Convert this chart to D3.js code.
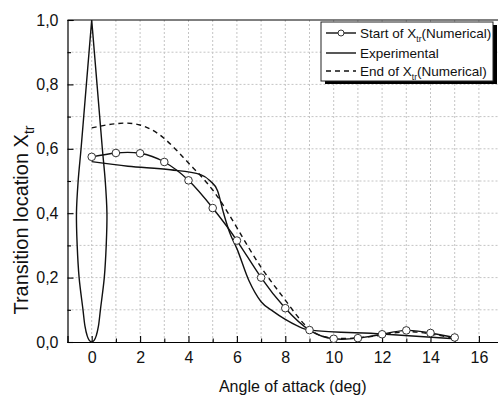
<!DOCTYPE html>
<html>
<head>
<meta charset="utf-8">
<script src="https://cdn.jsdelivr.net/npm/d3@7"></script>
<style>
  body { margin: 0; background: #fff; }
  svg { display: block; font-family: "Liberation Sans", Arial, Helvetica, sans-serif; }
</style>
</head>
<body>
<svg id="chart" width="498" height="399"></svg>
<script>
// Angle of attack (deg) for the numerical runs
const angles = [0, 1, 2, 3, 4, 5, 6, 7, 8, 9, 10, 11, 12, 13, 14, 15];
// Start of transition (numerical)
const startXtr = [0.575, 0.587, 0.586, 0.559, 0.502, 0.416, 0.315, 0.200, 0.105, 0.037, 0.010, 0.012, 0.024, 0.036, 0.028, 0.014];
// End of transition (numerical)
const endXtr = [0.665, 0.678, 0.674, 0.632, 0.556, 0.472, 0.355, 0.232, 0.130, 0.040, 0.012, 0.013, 0.022, 0.032, 0.025, 0.012];
// Experimental transition location
const expAngles = [0, 1.5, 3.25, 4.5, 4.9, 5.2, 5.45, 5.7, 6, 6.5, 7, 7.5, 8, 8.5, 9, 12, 15];
const expXtr = [0.560, 0.546, 0.535, 0.520, 0.500, 0.470, 0.400, 0.340, 0.290, 0.190, 0.125, 0.095, 0.070, 0.050, 0.037, 0.025, 0.010];

// Airfoil outline sketched along the chord (0 = leading edge, 1 = trailing edge),
// half-thickness given in x-axis units
const airfoilChord = [0, 0.005, 0.02, 0.05, 0.1, 0.2, 0.3, 0.4, 0.5, 0.6, 0.7, 0.8, 0.9, 1.0];
const airfoilHalf  = [0, 0.10, 0.19, 0.28, 0.36, 0.52, 0.60, 0.63, 0.56, 0.44, 0.33, 0.22, 0.11, 0];

const xMajorTicks = [0, 2, 4, 6, 8, 10, 12, 14, 16];
const xMinorTicks = [1, 3, 5, 7, 9, 11, 13, 15];
const yMajorTicks = [0, 0.2, 0.4, 0.6, 0.8, 1.0];
const yMinorTicks = [0.1, 0.3, 0.5, 0.7, 0.9];
const xGrid = [0, 1, 2, 3, 4, 5, 6, 7, 8, 9, 10, 11, 12, 13, 14, 15, 16];
const yGrid = [0.1, 0.2, 0.3, 0.4, 0.5, 0.6, 0.7, 0.8, 0.9];

const svg = d3.select("#chart");
const x = d3.scaleLinear().domain([-1, 17]).range([67.5, 67.5 + 18 * 24.2]);
const y = d3.scaleLinear().domain([0, 1]).range([342, 20]);
const fmt = d => d3.format(".1f")(d).replace(".", ",");

// grid
const grid = svg.append("g");
grid.selectAll("line.gx").data(xGrid).join("line")
  .attr("x1", d => x(d)).attr("x2", d => x(d))
  .attr("y1", y(0)).attr("y2", y(1))
  .attr("stroke", "#c4c4c4").attr("stroke-width", 1).attr("stroke-dasharray", "2,2");
grid.selectAll("line.gy").data(yGrid).join("line")
  .attr("x1", x(-1)).attr("x2", x(17))
  .attr("y1", d => y(d)).attr("y2", d => y(d))
  .attr("stroke", "#c4c4c4").attr("stroke-width", 1).attr("stroke-dasharray", "2,2");

// frame (top edge)
svg.append("line").attr("x1", x(-1)).attr("x2", x(17)).attr("y1", y(1)).attr("y2", y(1))
  .attr("stroke", "#000").attr("stroke-width", 1);

// axes with inward ticks
svg.append("g").attr("transform", `translate(0,${y(0)})`)
  .call(d3.axisBottom(x).tickValues(xMajorTicks).tickSize(-6).tickPadding(10).tickFormat(d3.format("d")));
svg.append("g").attr("transform", `translate(0,${y(0)})`)
  .call(d3.axisBottom(x).tickValues(xMinorTicks).tickSize(-3.5).tickFormat(""))
  .call(g => g.select(".domain").remove());
svg.append("g").attr("transform", `translate(${x(-1)},0)`)
  .call(d3.axisLeft(y).tickValues(yMajorTicks).tickSize(-6).tickPadding(9).tickFormat(fmt));
svg.append("g").attr("transform", `translate(${x(-1)},0)`)
  .call(d3.axisLeft(y).tickValues(yMinorTicks).tickSize(-3.5).tickFormat(""))
  .call(g => g.select(".domain").remove());
svg.selectAll(".domain").attr("stroke", "#000").attr("stroke-width", 1.2);
svg.selectAll(".tick line").attr("stroke", "#000").attr("stroke-width", 1.1);
svg.selectAll(".tick text").attr("font-size", 16).attr("fill", "#111")
  .attr("font-family", "Liberation Sans, Arial, sans-serif");

// axis titles
svg.append("text").attr("x", (x(-1) + 498) / 2 + 10).attr("y", 392)
  .attr("text-anchor", "middle").attr("font-size", 16).attr("fill", "#111")
  .text("Angle of attack (deg)");
const yt = svg.append("text").attr("transform", "translate(28,220) rotate(-90)")
  .attr("text-anchor", "middle").attr("font-size", 20).attr("fill", "#111");
yt.append("tspan").text("Transition location X");
yt.append("tspan").attr("font-size", 14).attr("dy", 6).text("tr");

// airfoil sketch: trailing edge -> left side -> leading edge -> right side -> trailing edge
const foil = [];
for (let i = airfoilChord.length - 1; i >= 0; i--) foil.push([-airfoilHalf[i], airfoilChord[i]]);
for (let i = 1; i < airfoilChord.length; i++) foil.push([airfoilHalf[i], airfoilChord[i]]);
svg.append("path").datum(foil)
  .attr("d", d3.line().x(d => x(d[0])).y(d => y(d[1])).curve(d3.curveCatmullRom.alpha(0.5)))
  .attr("fill", "none").attr("stroke", "#111").attr("stroke-width", 1.4);

// series
const lineGen = d3.line().x(d => x(d[0])).y(d => y(d[1]));
svg.append("path").datum(d3.zip(angles, endXtr))
  .attr("d", lineGen.curve(d3.curveNatural))
  .attr("fill", "none").attr("stroke", "#111").attr("stroke-width", 1.4).attr("stroke-dasharray", "5,4");
svg.append("path").datum(d3.zip(expAngles, expXtr))
  .attr("d", lineGen.curve(d3.curveMonotoneX))
  .attr("fill", "none").attr("stroke", "#111").attr("stroke-width", 1.4);
svg.append("path").datum(d3.zip(angles, startXtr))
  .attr("d", lineGen.curve(d3.curveNatural))
  .attr("fill", "none").attr("stroke", "#111").attr("stroke-width", 1.4);
svg.append("g").selectAll("circle").data(d3.zip(angles, startXtr)).join("circle")
  .attr("cx", d => x(d[0])).attr("cy", d => y(d[1])).attr("r", 3.8)
  .attr("fill", "#fff").attr("stroke", "#333").attr("stroke-width", 1);

// legend
const lg = svg.append("g");
lg.append("rect").attr("x", 325).attr("y", 25).attr("width", 172).attr("height", 59).attr("fill", "#000");
lg.append("rect").attr("x", 321).attr("y", 22).attr("width", 172).attr("height", 59)
  .attr("fill", "#fff").attr("stroke", "#222").attr("stroke-width", 1);
const rows = [
  { y: 33, dash: null, marker: true, main: "Start of X", sub: "tr", tail: "(Numerical)" },
  { y: 53, dash: null, marker: false, main: "Experimental", sub: null, tail: "" },
  { y: 71, dash: "5,4", marker: false, main: "End of X", sub: "tr", tail: "(Numerical)" }
];
rows.forEach(r => {
  lg.append("line").attr("x1", 326).attr("x2", 356).attr("y1", r.y).attr("y2", r.y)
    .attr("stroke", "#111").attr("stroke-width", 1.4).attr("stroke-dasharray", r.dash);
  if (r.marker) lg.append("circle").attr("cx", 341).attr("cy", r.y).attr("r", 3)
    .attr("fill", "#fff").attr("stroke", "#333");
  const t = lg.append("text").attr("x", 360).attr("y", r.y + 5).attr("font-size", 13.5).attr("fill", "#111");
  t.append("tspan").text(r.main);
  if (r.sub) {
    t.append("tspan").attr("font-size", 8.5).attr("dy", 4).text(r.sub);
    t.append("tspan").attr("dy", -4).text(r.tail);
  }
});
</script>
</body>
</html>
